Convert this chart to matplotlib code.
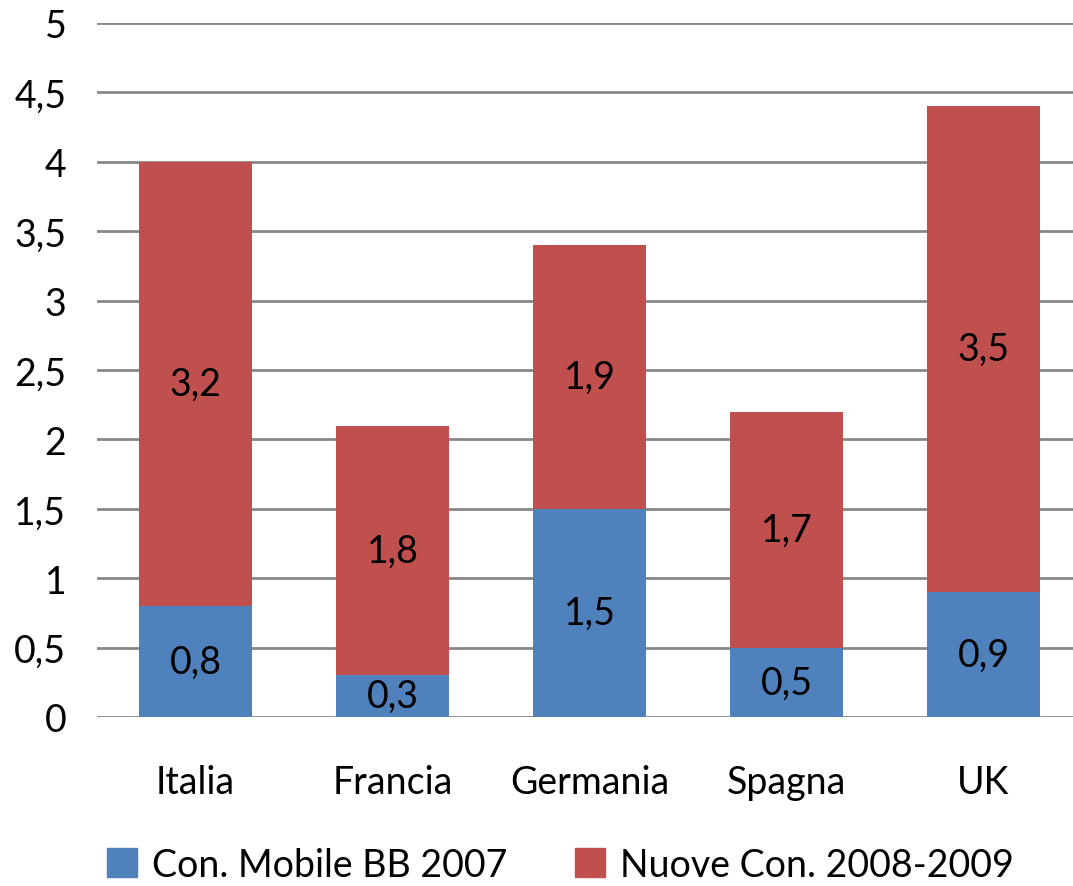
import matplotlib.pyplot as plt
from matplotlib.patches import Patch

countries = ["Italia", "Francia", "Germania", "Spagna", "UK"]
mobile_bb_2007 = [0.8, 0.3, 1.5, 0.5, 0.9]
new_con_2008_2009 = [3.2, 1.8, 1.9, 1.7, 3.5]
series_labels = ["Con. Mobile BB 2007", "Nuove Con. 2008-2009"]
y_ticks = [0, 0.5, 1, 1.5, 2, 2.5, 3, 3.5, 4, 4.5, 5]

BLUE = "#4F81BD"
RED = "#C0504D"
FONT = "Lato"
FS = 27

fig = plt.figure(figsize=(10.73, 8.87), dpi=100)
ax = fig.add_axes([97 / 1073, 169 / 887, 985 / 1073, 694 / 887])

x = range(len(countries))
width = 0.57
ax.bar(x, mobile_bb_2007, width, color=BLUE, zorder=3)
ax.bar(x, new_con_2008_2009, width, bottom=mobile_bb_2007, color=RED, zorder=3)

for i, (a, b) in enumerate(zip(mobile_bb_2007, new_con_2008_2009)):
    ax.text(i, a / 2, f"{a:.1f}".replace(".", ","), ha="center", va="center",
            fontsize=FS, family=FONT, zorder=4)
    ax.text(i, a + b / 2, f"{b:.1f}".replace(".", ","), ha="center", va="center",
            fontsize=FS, family=FONT, zorder=4)

ax.set_xlim(-0.5, len(countries) - 0.5)
ax.set_ylim(0, 5)
ax.set_yticks(y_ticks)
ax.set_yticklabels([f"{t:g}".replace(".", ",") for t in y_ticks], family=FONT, fontsize=FS)
ax.set_xticks(list(x))
ax.set_xticklabels(countries, family=FONT, fontsize=FS)
ax.tick_params(axis="y", length=0, pad=22)
ax.tick_params(axis="x", length=0, pad=34)
ax.grid(axis="y", color="#888888", linewidth=2, zorder=0)
for side in ["left", "right", "top", "bottom"]:
    ax.spines[side].set_visible(False)

handles = [Patch(color=BLUE), Patch(color=RED)]
fig.legend(handles, series_labels, loc="center", bbox_to_anchor=(0.522, 0.024),
           ncol=2, frameon=False, prop={"family": FONT, "size": FS},
           handlelength=0.8, handleheight=0.8, handletextpad=0.4, columnspacing=1.8)

fig.savefig("out.png", dpi=100)
